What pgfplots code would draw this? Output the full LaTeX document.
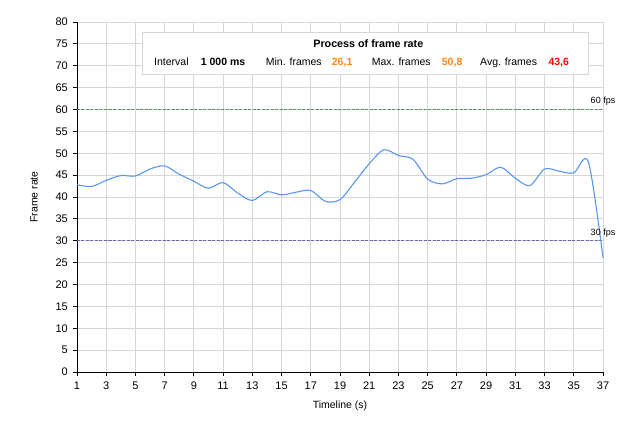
\documentclass[border=0pt]{standalone}
\usepackage{fontspec}
\setmainfont{Liberation Sans}
\usepackage{pgfplots}
\pgfplotsset{compat=1.18}
\definecolor{gridgray}{RGB}{215,215,215}
\definecolor{fpsblue}{RGB}{90,150,240}
\definecolor{line60}{RGB}{90,145,90}
\definecolor{line30}{RGB}{105,105,160}
\definecolor{darkor}{RGB}{255,135,20}
\pgfplotstableread{
x y
1 42.8
2 42.4
3 43.8
4 44.9
5 44.8
6 46.4
7 47.1
8 45.2
9 43.6
10 42.0
11 43.3
12 40.9
13 39.2
14 41.2
15 40.5
16 41.1
17 41.5
18 39.0
19 39.4
20 43.4
21 47.6
22 50.8
23 49.5
24 48.6
25 44.1
26 43.0
27 44.2
28 44.3
29 45.1
30 46.8
31 44.3
32 42.6
33 46.4
34 45.9
35 45.5
36 48.0
37 26.1
}\fpsdata
\begin{document}
\begin{tikzpicture}[font=\fontsize{10.5}{12}\selectfont]
\begin{axis}[name=ax, scale only axis, width=526pt, height=350pt,
  xmin=1, xmax=37, ymin=0, ymax=80,
  xtick={1,3,...,37}, ytick={0,5,...,80},
  grid=major, major grid style={color=gridgray, line width=0.9pt},
  axis x line*=bottom, axis y line*=left,
  axis line style={black, line width=0.9pt, -},
  tick style={black, line width=0.9pt},
  tick align=outside, major tick length=4pt,
  /pgf/number format/assume math mode=true,
  tick label style={font=\fontsize{11}{12}\selectfont},
  yticklabel style={inner sep=0pt, anchor=east, xshift=-5pt},
  xticklabel style={inner sep=0pt, anchor=north, yshift=-6pt},
  xlabel={Timeline (s)}, ylabel={Frame rate},
  xlabel style={at={(axis description cs:0.5,-0.097)}, anchor=center},
  ylabel style={at={(axis description cs:-0.0817,0.5)}, anchor=center},
  clip=false]
\addplot[line60, line width=1.3pt, dash pattern=on 3pt off 1.5pt] coordinates {(1,60) (37,60)};
\addplot[line30, line width=1.3pt, dash pattern=on 3pt off 1.5pt] coordinates {(1,30) (37,30)};
\addplot[fpsblue, line width=1.1pt, smooth, tension=0.5] table[x=x,y=y] {\fpsdata};
\node[anchor=base, font=\fontsize{9}{10}\selectfont, yshift=6pt] at (axis cs:37,60) {60 fps};
\node[anchor=base, font=\fontsize{9}{10}\selectfont, yshift=5pt] at (axis cs:37,30) {30 fps};
\end{axis}
\draw[gridgray, line width=0.9pt, fill=white] ([xshift=65pt,yshift=-10.3pt]ax.north west) rectangle ([xshift=511pt,yshift=-52.3pt]ax.north west);
\node[anchor=base, font=\fontsize{10.75}{12}\selectfont\bfseries] at ([xshift=291.3pt,yshift=-25.3pt]ax.north west) {Process of frame rate};
\node[anchor=base west, inner sep=0pt] at ([xshift=77pt,yshift=-44pt]ax.north west) {Interval};
\node[anchor=base west, inner sep=0pt, font=\fontsize{10.5}{12}\selectfont\bfseries] at ([xshift=123.7pt,yshift=-44pt]ax.north west) {1~000 ms};
\node[anchor=base west, inner sep=0pt] at ([xshift=188.7pt,yshift=-44pt]ax.north west) {Min. frames};
\node[anchor=base west, inner sep=0pt, text=darkor, font=\fontsize{10.5}{12}\selectfont\bfseries] at ([xshift=254.7pt,yshift=-44pt]ax.north west) {26,1};
\node[anchor=base west, inner sep=0pt] at ([xshift=294.7pt,yshift=-44pt]ax.north west) {Max. frames};
\node[anchor=base west, inner sep=0pt, text=darkor, font=\fontsize{10.5}{12}\selectfont\bfseries] at ([xshift=364.7pt,yshift=-44pt]ax.north west) {50,8};
\node[anchor=base west, inner sep=0pt] at ([xshift=403pt,yshift=-44pt]ax.north west) {Avg. frames};
\node[anchor=base west, inner sep=0pt, text=red, font=\fontsize{10.5}{12}\selectfont\bfseries] at ([xshift=471.3pt,yshift=-44pt]ax.north west) {43,6};
\pgfresetboundingbox
\path ([xshift=-77pt,yshift=-59pt]ax.south west) rectangle ([xshift=30pt,yshift=22pt]ax.north east);
\end{tikzpicture}
\end{document}
